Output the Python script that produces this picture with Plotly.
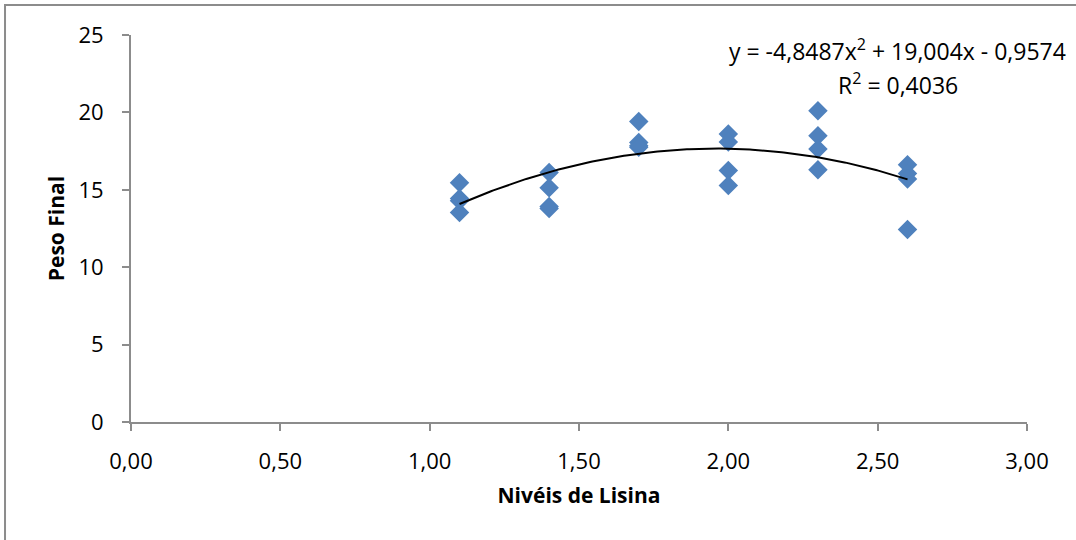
import numpy as np
import plotly.graph_objects as go

# Lysine levels and final weight observations (four replicates per level)
lysine_levels = [1.1, 1.1, 1.1, 1.1,
                 1.4, 1.4, 1.4, 1.4,
                 1.7, 1.7, 1.7, 1.7,
                 2.0, 2.0, 2.0, 2.0,
                 2.3, 2.3, 2.3, 2.3,
                 2.6, 2.6, 2.6, 2.6]
final_weight = [15.45, 14.43, 14.30, 13.53,
                16.12, 15.14, 13.92, 13.80,
                19.41, 18.05, 17.85, 17.75,
                18.60, 18.09, 16.24, 15.27,
                20.10, 18.49, 17.64, 16.30,
                16.62, 16.05, 15.70, 12.44]

# Polynomial trendline coefficients (a*x^2 + b*x + c) and R^2
trend_coefs = [-4.8487, 19.004, -0.9574]
r_squared = 0.4036

x_ticks = [0.0, 0.5, 1.0, 1.5, 2.0, 2.5, 3.0]
x_tick_text = ["0,00", "0,50", "1,00", "1,50", "2,00", "2,50", "3,00"]
y_ticks = [0, 5, 10, 15, 20, 25]

FONT = "Open Sans"
AXIS_GRAY = "#8c8c8c"


def br_num(v, nd):
    return f"{abs(v):.{nd}f}".replace(".", ",")


a, b, c = trend_coefs
x_fit = np.linspace(min(lysine_levels), max(lysine_levels), 200)
y_fit = a * x_fit ** 2 + b * x_fit + c

fig = go.Figure()
fig.add_trace(go.Scatter(
    x=lysine_levels, y=final_weight, mode="markers",
    marker=dict(symbol="diamond", size=15, color="#4F81BD",
                line=dict(width=0)),
    showlegend=False, hoverinfo="x+y",
))
fig.add_trace(go.Scatter(
    x=x_fit, y=y_fit, mode="lines",
    line=dict(color="black", width=2),
    showlegend=False, hoverinfo="skip",
))

eq_text = (f"y = {'-' if a < 0 else ''}{br_num(a, 4)}x<sup>2</sup> "
           f"{'+' if b >= 0 else '-'} {br_num(b, 3)}x "
           f"{'+' if c >= 0 else '-'} {br_num(c, 4)}")
r2_text = f"R<sup>2</sup> = {br_num(r_squared, 4)}"

fig.add_annotation(x=2.568, y=24.05, xref="x", yref="y", text=eq_text,
                   showarrow=False, xanchor="center", yanchor="middle",
                   font=dict(family=FONT, size=23, color="black"))
fig.add_annotation(x=2.568, y=21.85, xref="x", yref="y", text=r2_text,
                   showarrow=False, xanchor="center", yanchor="middle",
                   font=dict(family=FONT, size=23, color="black"))

# Outer chart-area border
fig.add_shape(type="rect", xref="paper", yref="paper",
              x0=-0.1406, x1=1.07, y0=-0.32, y1=1.0775,
              line=dict(color=AXIS_GRAY, width=2), fillcolor="rgba(0,0,0,0)",
              layer="below")

fig.update_layout(
    width=1076, height=540,
    margin=dict(l=131, r=49, t=35, b=118),
    paper_bgcolor="white", plot_bgcolor="white",
    font=dict(family=FONT, size=22, color="black"),
    xaxis=dict(
        range=[0, 3], tickvals=x_ticks, ticktext=x_tick_text,
        showgrid=False, zeroline=False, showline=True,
        linecolor=AXIS_GRAY, linewidth=2,
        ticks="outside", ticklen=7, tickcolor=AXIS_GRAY, tickwidth=1.5,
        tickfont=dict(family=FONT, size=22),
        ticklabelstandoff=12,
        title=dict(text="<b>Nivéis de Lisina</b>", standoff=14,
                   font=dict(family=FONT, size=21)),
    ),
    yaxis=dict(
        range=[0, 25], tickvals=y_ticks,
        showgrid=False, zeroline=False, showline=True,
        linecolor=AXIS_GRAY, linewidth=2,
        ticks="outside", ticklen=7, tickcolor=AXIS_GRAY, tickwidth=1.5,
        tickfont=dict(family=FONT, size=22),
        ticklabelstandoff=14,
        title=dict(text="<b>Peso Final</b>", standoff=8,
                   font=dict(family=FONT, size=21)),
    ),
)

fig.write_html("out.html")
